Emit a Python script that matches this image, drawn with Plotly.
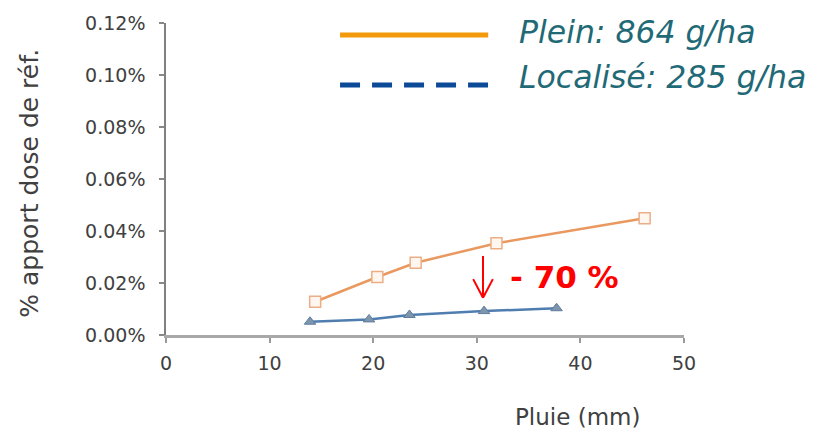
import plotly.graph_objects as go

# Rainfall (mm) and share of the reference dose that reached the sample
pluie_plein = [14.4, 20.4, 24.1, 31.9, 46.2]
apport_plein = [0.0128, 0.0223, 0.0278, 0.0353, 0.0449]

pluie_localise = [13.9, 19.6, 23.5, 30.7, 37.7]
apport_localise = [0.0051, 0.0060, 0.0077, 0.0092, 0.0103]

y_ticks = [0.00, 0.02, 0.04, 0.06, 0.08, 0.10, 0.12]
y_tick_labels = ["0.00%", "0.02%", "0.04%", "0.06%", "0.08%", "0.10%", "0.12%"]
x_ticks = [0, 10, 20, 30, 40, 50]

legend_labels = ["Plein: 864 g/ha", "Localisé: 285 g/ha"]
reduction_label = "- 70 %"
x_title = "Pluie (mm)"
y_title = "% apport dose de réf."

FONT = "DejaVu Sans"
TEXT_GREY = "#404040"

fig = go.Figure()

fig.add_trace(go.Scatter(
    x=pluie_plein, y=apport_plein, mode="lines+markers",
    line=dict(color="#E9995F", width=2.5),
    marker=dict(symbol="square", size=11, color="#FFF6EF",
                line=dict(color="#EBAE86", width=1.5)),
    showlegend=False,
))
fig.add_trace(go.Scatter(
    x=pluie_localise, y=apport_localise, mode="lines+markers",
    line=dict(color="#4F7DB0", width=2.5),
    marker=dict(symbol="triangle-up", size=10, color="#7E95AE",
                line=dict(color="#5F7E9E", width=1)),
    showlegend=False,
))

# Hand-drawn legend: thick sample lines with italic captions
fig.add_shape(type="line", xref="paper", yref="paper",
              x0=0.336, x1=0.622, y0=0.9615, y1=0.9615,
              line=dict(color="#F39A0C", width=5))
fig.add_shape(type="line", xref="paper", yref="paper",
              x0=0.336, x1=0.622, y0=0.8013, y1=0.8013,
              line=dict(color="#0B4A97", width=5, dash="20px,12px"))
for label, ypos in zip(legend_labels, [0.971, 0.826]):
    fig.add_annotation(text=label, xref="paper", yref="paper",
                       x=0.678, y=ypos, xanchor="left", yanchor="middle",
                       showarrow=False,
                       font=dict(family=FONT, size=31.5, color="#1F6A76",
                                 style="italic"))

# Reduction arrow and label
arrow_x = 30.6
fig.add_shape(type="line", x0=arrow_x, x1=arrow_x, y0=0.0304, y1=0.0143,
              line=dict(color="#FF0000", width=2))
fig.add_shape(type="line", x0=arrow_x - 0.95, x1=arrow_x, y0=0.0215, y1=0.0143,
              line=dict(color="#FF0000", width=2))
fig.add_shape(type="line", x0=arrow_x + 0.95, x1=arrow_x, y0=0.0215, y1=0.0143,
              line=dict(color="#FF0000", width=2))
fig.add_annotation(text=reduction_label, x=33.0, y=0.0222,
                   xanchor="left", yanchor="middle", showarrow=False,
                   font=dict(family=FONT, size=31, color="#FF0000",
                             weight="bold"))

# Axis titles
fig.add_annotation(text=y_title, xref="paper", yref="paper",
                   x=-0.2625, y=0.485, textangle=-90,
                   xanchor="center", yanchor="middle", showarrow=False,
                   font=dict(family=FONT, size=25, color=TEXT_GREY))
fig.add_annotation(text=x_title, xref="paper", yref="paper",
                   x=0.795, y=-0.263, xanchor="center", yanchor="middle",
                   showarrow=False,
                   font=dict(family=FONT, size=23, color=TEXT_GREY))

fig.update_xaxes(
    range=[0, 50], tickvals=x_ticks, ticks="outside", ticklen=5,
    tickcolor="#9A9A9A", tickwidth=1.5,
    showline=True, linecolor="#A8A8A8", linewidth=2.5,
    showgrid=False, zeroline=False, ticklabelstandoff=4,
    tickfont=dict(family=FONT, size=19, color=TEXT_GREY),
)
fig.update_yaxes(
    range=[0, 0.12], tickvals=y_ticks, ticktext=y_tick_labels,
    ticks="outside", ticklen=5, tickcolor="#888888", tickwidth=1.5,
    showline=True, linecolor="#808080", linewidth=1.5,
    showgrid=False, zeroline=False, ticklabelstandoff=10,
    tickfont=dict(family=FONT, size=19, color=TEXT_GREY),
)

fig.update_layout(
    width=820, height=433,
    margin=dict(l=166, r=136, t=23, b=98),
    paper_bgcolor="white", plot_bgcolor="white",
)

fig.write_html("out.html")
